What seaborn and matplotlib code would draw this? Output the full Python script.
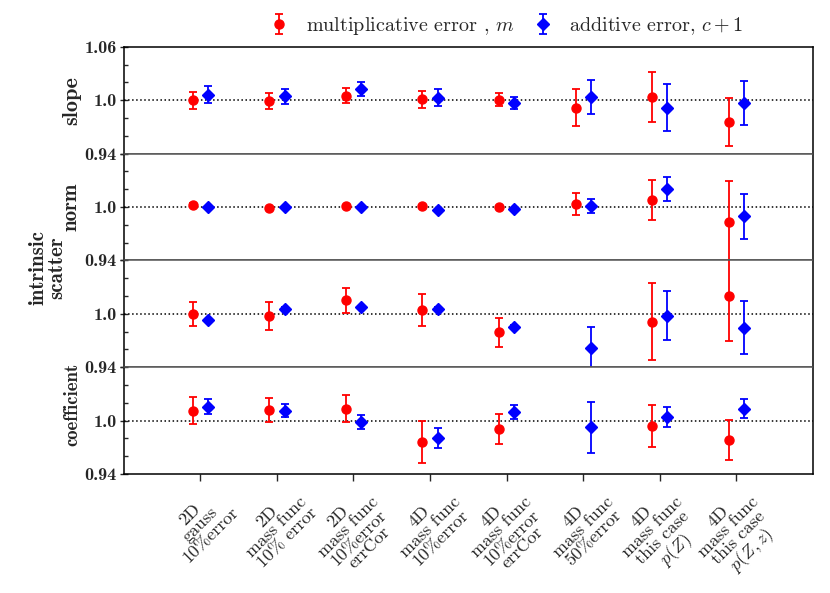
import numpy as np
import matplotlib
matplotlib.use("Agg")
import matplotlib.pyplot as plt
import seaborn as sns

# categories along the x axis
cases = ["2D\ngauss\n10%error",
         "2D\nmass func\n10% error",
         "2D\nmass func\n10%error\nerrCor",
         "4D\nmass func\n10%error",
         "4D\nmass func\n10%error\nerrCor",
         "4D\nmass func\n50%error",
         "4D\nmass func\nthis case\n$p(Z)$",
         "4D\nmass func\nthis case\n$p(Z,z)$"]

panel_names = ["slope", "norm", "intrinsic\nscatter", "coefficient"]

# multiplicative error m (red) and additive error c+1 (blue), per panel
slope_m = [1.000, 0.9993, 1.0053, 1.0011, 1.0008, 0.9915, 1.0034, 0.9756]
slope_m_err = [0.0094, 0.0086, 0.0082, 0.0095, 0.0070, 0.0206, 0.0280, 0.0267]
slope_c = [1.0064, 1.0045, 1.0128, 1.0030, 0.9970, 1.0034, 0.9915, 0.9970]
slope_c_err = [0.0093, 0.0084, 0.0080, 0.0093, 0.0067, 0.0194, 0.0266, 0.0249]

norm_m = [1.0026, 0.9988, 1.0006, 1.0010, 1.0002, 1.0029, 1.0081, 0.9833]
norm_m_err = [0.0015, 0.0010, 0.0010, 0.0018, 0.0010, 0.0124, 0.0226, 0.0460]
norm_c = [0.9995, 1.0000, 1.0000, 0.9972, 0.9983, 1.0014, 1.0205, 0.9897]
norm_c_err = [0.0008, 0.0008, 0.0008, 0.0008, 0.0008, 0.0081, 0.0137, 0.0254]

scatter_m = [1.0000, 0.9974, 1.0150, 1.0042, 0.9793, np.nan, 0.9913, 1.0195]
scatter_m_err = [0.0132, 0.0160, 0.0145, 0.0177, 0.0165, np.nan, 0.0436, 0.0500]
scatter_c = [0.9932, 1.0053, 1.0075, 1.0053, 0.9850, 0.9620, 0.9977, 0.9842]
scatter_c_err = [0.0015, 0.0018, 0.0015, 0.0018, 0.0022, 0.0230, 0.0274, 0.0299]

coef_m = [1.0113, 1.0117, 1.0135, 0.9756, 0.9903, np.nan, 0.9940, 0.9779]
coef_m_err = [0.0154, 0.0137, 0.0156, 0.0235, 0.0167, np.nan, 0.0239, 0.0224]
coef_c = [1.0155, 1.0110, 0.9985, 0.9805, 1.0095, 0.9925, 1.0042, 1.0132]
coef_c_err = [0.0083, 0.0075, 0.0080, 0.0110, 0.0081, 0.0286, 0.0116, 0.0107]

panels = [(slope_m, slope_m_err, slope_c, slope_c_err),
          (norm_m, norm_m_err, norm_c, norm_c_err),
          (scatter_m, scatter_m_err, scatter_c, scatter_c_err),
          (coef_m, coef_m_err, coef_c, coef_c_err)]

# label anchor (axes coords) and size for the panel names
label_pos = [(-0.061, 0.5), (-0.062, 0.5), (-0.083, 0.93), (-0.062, 0.65)]
label_size = [16, 15, 15, 13.5]

sns.set_theme(style="ticks")
plt.rcParams["font.family"] = ["cmb10", "DejaVu Sans"]
plt.rcParams["mathtext.fontset"] = "cm"
plt.rcParams["axes.formatter.use_mathtext"] = True

fig, axes = plt.subplots(4, 1, figsize=(8.3, 5.93), dpi=100, sharex=True)
fig.subplots_adjust(left=0.149, right=0.9795, top=0.921, bottom=0.2007, hspace=0)

x = np.arange(1, len(cases) + 1)

for i, (ax, (m, m_err, c, c_err)) in enumerate(zip(axes, panels)):
    ax.axhline(1.0, color="black", linestyle=":", linewidth=1.1, zorder=1)
    h_m = ax.errorbar(x - 0.1, m, yerr=m_err, fmt="o", color="red", ms=6.5,
                      capsize=3, elinewidth=1.3, capthick=1.3,
                      label="multiplicative error , $m$")
    h_c = ax.errorbar(x + 0.1, c, yerr=c_err, fmt="D", color="blue", ms=6,
                      capsize=3, elinewidth=1.3, capthick=1.3,
                      label="additive error, $c + 1$")

    ax.set_xlim(0, 9)
    ax.set_ylim(0.94, 1.06)
    ax.set_yticks([0.94, 1.0, 1.06])
    if i == 0:
        ax.set_yticklabels(["0.94", "1.0", "1.06"])
    else:
        ax.set_yticklabels(["0.94", "1.0", ""])
    ax.set_yticks([0.96, 0.98, 1.02, 1.04], minor=True)
    ax.tick_params(axis="y", which="major", direction="inout", length=6,
                   width=1, labelsize=13, pad=2)
    ax.tick_params(axis="y", which="minor", direction="in", length=3, width=1)

    for side in ["left", "right", "top", "bottom"]:
        ax.spines[side].set_color("black")
        ax.spines[side].set_linewidth(1.1)
    if i > 0:
        ax.spines["top"].set_color("#555555")
    if i < 3:
        ax.spines["bottom"].set_color("#555555")
        ax.tick_params(axis="x", which="both", length=0)

    ax.set_ylabel(panel_names[i], fontsize=label_size[i],
                  family=["cmb10", "DejaVu Sans"], linespacing=1.0)
    ax.yaxis.set_label_coords(*label_pos[i])

axes[-1].set_xticks(x)
axes[-1].set_xticklabels(cases, rotation=45, ha="center", multialignment="center",
                         fontsize=13, family=["cmr10", "DejaVu Sans"],
                         linespacing=0.95)
axes[-1].tick_params(axis="x", direction="out", length=5, width=1, pad=2)

fig.legend(handles=[h_m, h_c], loc="upper center", bbox_to_anchor=(0.61, 1.005),
           ncol=2, frameon=False, prop={"family": "cmr10", "size": 14.5},
           handlelength=1.0, columnspacing=0.9)

fig.savefig("out.png", dpi=100)
